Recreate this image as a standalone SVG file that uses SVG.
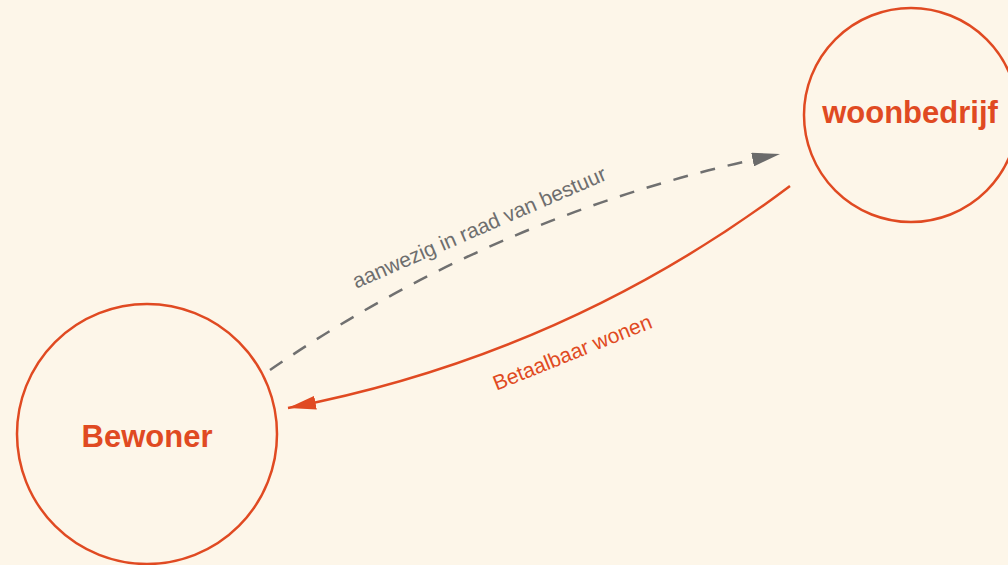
<svg xmlns="http://www.w3.org/2000/svg" width="1008" height="565" viewBox="0 0 1008 565">
<defs>
<style>
.node{fill:none;stroke:#E04A22;stroke-width:2.5}
.ntext{font-family:"Liberation Sans",Arial,sans-serif;font-weight:bold;font-size:31px;fill:#E04A22;text-anchor:middle}
.lbl{font-family:"Liberation Sans",Arial,sans-serif;font-size:21px;text-anchor:middle}
</style>
<marker id="ag" viewBox="0 0 28 14" refX="28" refY="7" markerWidth="28" markerHeight="14" markerUnits="userSpaceOnUse" orient="auto">
<path d="M0,0 L28,7 L0,14 Z" fill="#6B6B6B"/>
</marker>
<marker id="ar" viewBox="0 0 28 14" refX="28" refY="7" markerWidth="28" markerHeight="14" markerUnits="userSpaceOnUse" orient="auto">
<path d="M0,0 L28,7 L0,14 Z" fill="#E04A22"/>
</marker>
</defs>
<rect width="1008" height="565" fill="#FDF6E9"/>
<g id="connectors">
<path d="M270,370 Q503,210 780,154" fill="none" stroke="#707070" stroke-width="2.5" stroke-dasharray="15 13" marker-end="url(#ag)"/>
<text class="lbl" fill="#6E6E6E" transform="translate(482,234) rotate(-23.5)">aanwezig in raad van bestuur</text>
<path d="M790,186 Q565,355 288,408" fill="none" stroke="#E04A22" stroke-width="2.5" marker-end="url(#ar)"/>
<text class="lbl" fill="#E04A22" transform="translate(575,359) rotate(-22)">Betaalbaar wonen</text>
</g>
<g id="bewoner">
<circle class="node" cx="147" cy="434" r="130"/>
<text class="ntext" x="147" y="447">Bewoner</text>
</g>
<g id="woonbedrijf">
<circle class="node" cx="911" cy="115" r="107"/>
<text class="ntext" x="910" y="123">woonbedrijf</text>
</g>
</svg>
